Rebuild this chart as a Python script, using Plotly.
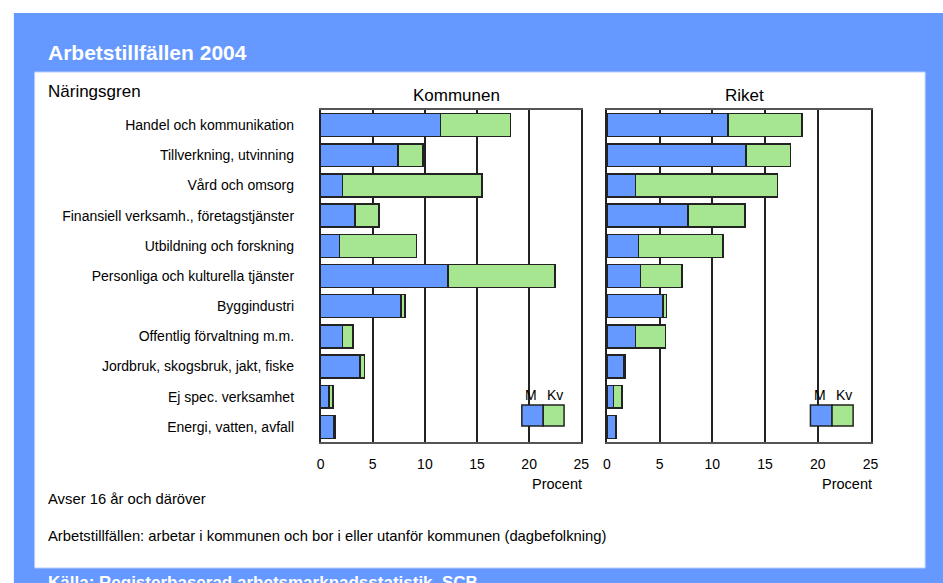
import plotly.graph_objects as go

categories = ["Handel och kommunikation", "Tillverkning, utvinning", "Vård och omsorg",
              "Finansiell verksamh., företagstjänster", "Utbildning och forskning",
              "Personliga och kulturella tjänster", "Byggindustri", "Offentlig förvaltning m.m.",
              "Jordbruk, skogsbruk, jakt, fiske", "Ej spec. verksamhet", "Energi, vatten, avfall"]
kommun_m = [11.5, 7.4, 2.1, 3.3, 1.8, 12.2, 7.7, 2.1, 3.8, 0.8, 1.3]
kommun_kv = [6.7, 2.4, 13.4, 2.3, 7.4, 10.3, 0.4, 1.0, 0.4, 0.4, 0.15]
riket_m = [11.5, 13.2, 2.7, 7.7, 3.0, 3.2, 5.3, 2.7, 1.6, 0.6, 0.8]
riket_kv = [7.0, 4.2, 13.5, 5.4, 8.0, 3.9, 0.35, 2.85, 0.15, 0.85, 0.12]
x_ticks = [0, 5, 10, 15, 20, 25]

W, H = 943, 583
BLUE = "#6699ff"
GREEN = "#a6e690"
EDGE = "#222222"
FONT = "Liberation Sans, Arial, sans-serif"

def X(px):
    return px / W

def Y(py):
    return 1 - py / H

fig = go.Figure()
for xa, ya, m, kv in [("x", "y", kommun_m, kommun_kv), ("x2", "y2", riket_m, riket_kv)]:
    fig.add_trace(go.Bar(y=categories, x=m, orientation="h", name="M", xaxis=xa, yaxis=ya,
                         marker=dict(color=BLUE, line=dict(color=EDGE, width=1.5)),
                         width=0.76, showlegend=False))
    fig.add_trace(go.Bar(y=categories, x=kv, orientation="h", name="Kv", xaxis=xa, yaxis=ya,
                         marker=dict(color=GREEN, line=dict(color=EDGE, width=1.5)),
                         width=0.76, showlegend=False))

ydom = [Y(442), Y(110)]
common_x = dict(range=[0, 25], tickvals=x_ticks, showgrid=True, gridcolor="#222222", gridwidth=1.5,
                showline=True, linecolor="#555555", linewidth=1.5, mirror=True,
                ticks="outside", ticklen=0, ticklabelstandoff=8,
                tickfont=dict(family=FONT, size=14, color="black"), zeroline=False, fixedrange=True)
common_y = dict(domain=ydom, autorange="reversed", showline=True, linecolor="#222222", linewidth=1.5,
                mirror=True, showgrid=False, zeroline=False, fixedrange=True)

shapes = [
    dict(type="rect", xref="paper", yref="paper", x0=X(10), x1=1.01, y0=-0.01, y1=Y(13),
         fillcolor=BLUE, line=dict(width=0), layer="below"),
    dict(type="rect", xref="paper", yref="paper", x0=X(31), x1=X(933), y0=Y(568), y1=Y(72),
         fillcolor="white", line=dict(color="#b8ccff", width=1), layer="below"),
]
annotations = [
    dict(text="Arbetstillfällen 2004", x=X(43), y=Y(52), xref="paper", yref="paper",
         xanchor="left", yanchor="middle", showarrow=False,
         font=dict(family=FONT, size=21, color="white", weight="bold")),
    dict(text="Näringsgren", x=X(43), y=Y(92), xref="paper", yref="paper",
         xanchor="left", yanchor="middle", showarrow=False, font=dict(family=FONT, size=17, color="black")),
    dict(text="Kommunen", x=X(458), y=Y(95), xref="paper", yref="paper",
         xanchor="center", yanchor="middle", showarrow=False, font=dict(family=FONT, size=17, color="black")),
    dict(text="Riket", x=X(750), y=Y(95), xref="paper", yref="paper",
         xanchor="center", yanchor="middle", showarrow=False, font=dict(family=FONT, size=17, color="black")),
    dict(text="Avser 16 år och däröver", x=X(43), y=Y(499), xref="paper", yref="paper",
         xanchor="left", yanchor="middle", showarrow=False, font=dict(family=FONT, size=14.8, color="black")),
    dict(text="Arbetstillfällen: arbetar i kommunen och bor i eller utanför kommunen (dagbefolkning)",
         x=X(43), y=Y(536), xref="paper", yref="paper",
         xanchor="left", yanchor="middle", showarrow=False, font=dict(family=FONT, size=14.8, color="black")),
    dict(text="Källa: Registerbaserad arbetsmarknadsstatistik, SCB", x=X(43), y=Y(571), xref="paper", yref="paper",
         xanchor="left", yanchor="top", showarrow=False,
         font=dict(family=FONT, size=17, color="white", weight="bold")),
]

for xa, ya in [("x", "y"), ("x2", "y2")]:
    xd = xa + " domain"
    # gap in the 20-gridline behind the legend
    shapes.append(dict(type="rect", xref=xa, yref="paper", x0=19.6, x1=20.4, y0=Y(433), y1=Y(372),
                       fillcolor="white", line=dict(width=0), layer="between"))
    shapes.append(dict(type="rect", xref=xa, yref="paper", x0=19.3, x1=21.35, y0=Y(426), y1=Y(405),
                       fillcolor=BLUE, line=dict(color=EDGE, width=1.5), layer="above"))
    shapes.append(dict(type="rect", xref=xa, yref="paper", x0=21.35, x1=23.35, y0=Y(426), y1=Y(405),
                       fillcolor=GREEN, line=dict(color=EDGE, width=1.5), layer="above"))
    annotations.append(dict(text="M", x=20.2, y=Y(395), xref=xa, yref="paper", showarrow=False,
                            xanchor="center", yanchor="middle", font=dict(family=FONT, size=14, color="black")))
    annotations.append(dict(text="Kv", x=22.5, y=Y(395), xref=xa, yref="paper", showarrow=False,
                            xanchor="center", yanchor="middle", font=dict(family=FONT, size=14, color="black")))
    annotations.append(dict(text="Procent", x=1.012, y=Y(484), xref=xd, yref="paper", showarrow=False,
                            xanchor="right", yanchor="middle", font=dict(family=FONT, size=14.5, color="black")))

fig.update_layout(
    width=W, height=H, margin=dict(l=0, r=0, t=0, b=0),
    paper_bgcolor="white", plot_bgcolor="white",
    barmode="stack", bargap=0.24,
    xaxis=dict(domain=[X(320.7), X(584.7)], anchor="y", **common_x),
    xaxis2=dict(domain=[X(610.7), X(877.7)], anchor="y2", **common_x),
    yaxis=dict(anchor="x", ticks="outside", ticklen=0, ticklabelstandoff=22,
               tickfont=dict(family=FONT, size=14, color="black"), **common_y),
    yaxis2=dict(anchor="x2", showticklabels=False, matches="y", **common_y),
    shapes=shapes, annotations=annotations, showlegend=False,
)

fig.write_html("out.html", config={"displayModeBar": False},
               post_script="document.body.style.margin='0';document.body.style.overflow='hidden';")
